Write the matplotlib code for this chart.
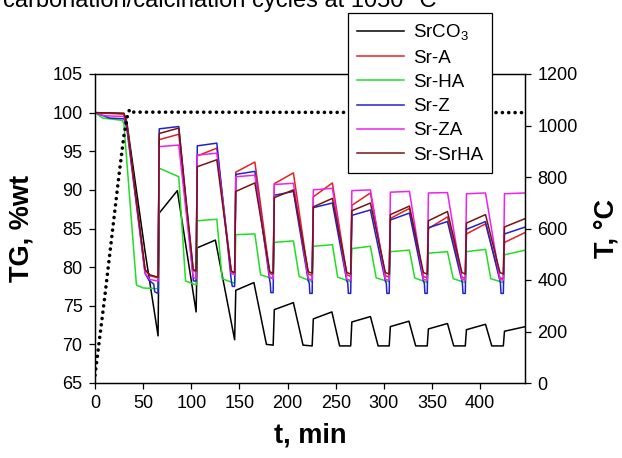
import matplotlib
matplotlib.use("Agg")
import matplotlib.pyplot as plt

plt.rcParams['font.family'] = ['Liberation Sans', 'DejaVu Sans']
plt.rcParams['mathtext.default'] = 'regular'

# ---------------- data ----------------
title_text = "carbonation/calcination cycles at 1050 \u00b0C"
series_names = ["SrCO$_3$", "Sr-A", "Sr-HA", "Sr-Z", "Sr-ZA", "Sr-SrHA"]

# start of each carbonation step (min)
cycle_start = [65.5, 105, 145, 185, 225.5, 265.5, 305.5, 345, 384.5, 424]
# end of each carbonation step (min)
carb_end = [87, 126.5, 166, 206, 246.5, 286, 326.5, 366, 405.5, 447]
carb_end_black = [85.5, 125, 165, 206, 246, 286, 326, 366, 405.5, 447]
# end of the calcination decline (min)
bottom_time = [102, 141.5, 181.5, 221.5, 261.5, 301.5, 341, 381, 420.5]
bottom_time_green = [94, 132, 172, 212, 252, 292, 332, 372, 411]
bottom_time_black = [105, 145, 178, 216, 254, 294, 333, 372.5, 412]

# temperature program
temp_t = [0, 5, 10, 15, 20, 25, 30, 34, 36, 39, 446.5]
temp_v = [30, 180, 330, 490, 650, 810, 960, 1045, 1062, 1052, 1050]

# SrCO3
srco3_init = [(0, 100), (30, 99.9), (33, 98.8), (52, 82.0), (65.5, 71.1)]
srco3_lo = [71.1, 74.2, 70.6, 69.9, 69.8, 69.8, 69.8, 69.8, 69.8, 69.8]
srco3_knee = [87.0, 82.5, 77.0, 74.5, 73.3, 72.9, 72.3, 72.0, 71.9, 71.7]
srco3_hi = [89.9, 83.5, 78.0, 75.4, 74.2, 73.6, 73.0, 72.7, 72.6, 72.3]
srco3_bot = [74.2, 70.6, 70.0, 69.9, 69.8, 69.8, 69.8, 69.8, 69.8]

# Sr-A
sra_init = [(0, 100), (30, 99.8), (33, 98.5), (52, 79.6), (57, 78.9), (65.5, 78.6)]
sra_lo = [78.6, 79.4, 79.2, 79.0, 78.9, 78.8, 78.7, 78.6, 78.5, 78.5]
sra_knee = [96.5, 94.4, 92.3, 90.8, 89.1, 88.0, 86.3, 85.0, 84.3, 83.2]
sra_hi = [97.2, 95.4, 93.6, 92.2, 90.9, 89.6, 87.6, 86.5, 85.6, 84.5]
sra_bot = [79.6, 79.4, 79.2, 79.1, 79.0, 78.9, 78.8, 78.7, 78.6]

# Sr-HA
srha_init = [(0, 100), (8, 99.3), (28, 99.0), (30, 98.6), (43, 77.7), (50, 77.3), (65.5, 77.2)]
srha_lo = [77.2, 77.7, 77.9, 78.5, 78.1, 78.1, 78.1, 78.0, 78.0, 78.0]
srha_knee = [92.8, 86.0, 84.2, 83.2, 82.7, 82.4, 82.0, 81.8, 82.0, 81.6]
srha_hi = [91.7, 86.2, 84.3, 83.4, 82.9, 82.7, 82.2, 82.0, 82.3, 82.2]
srha_bot = [78.2, 78.5, 79.0, 78.8, 78.7, 78.6, 78.6, 78.5, 78.5]

# Sr-Z
srz_init = [(0, 100), (15, 99.3), (30, 99.2), (33, 98.0), (52, 79.2), (56, 78.3),
            (61, 77.8), (62, 76.8), (65.5, 76.6)]
srz_lo = [76.6, 78.2, 77.5, 76.7, 76.6, 76.6, 76.6, 76.6, 76.6, 76.6]
srz_knee = [97.9, 95.7, 92.0, 89.3, 87.7, 86.7, 86.1, 85.1, 84.9, 84.3]
srz_hi = [98.2, 96.05, 92.4, 89.8, 88.3, 87.4, 87.0, 85.9, 85.9, 85.2]
srz_bot = [78.5, 78.3, 78.2, 78.2, 78.2, 78.2, 78.2, 78.2, 78.2]
srz_pre = [78.3, 77.9, 77.9, 77.9, 77.9, 77.9, 77.9, 77.9, 77.9]

# Sr-ZA
srza_init = [(0, 100), (10, 99.6), (30, 99.5), (33, 98.4), (52, 79.2), (57, 78.4), (65.5, 78.2)]
srza_lo = [78.2, 78.5, 79.0, 78.5, 78.3, 78.3, 78.3, 78.3, 78.3, 78.3]
srza_knee = [95.6, 94.5, 91.7, 90.7, 90.0, 89.9, 89.7, 89.6, 89.5, 89.5]
srza_hi = [95.8, 94.75, 91.9, 90.85, 90.2, 90.0, 89.8, 89.65, 89.6, 89.6]
srza_bot = [78.7, 79.2, 78.7, 78.5, 78.4, 78.4, 78.4, 78.4, 78.4]

# Sr-SrHA
srsrha_init = [(0, 100), (30, 99.9), (33, 98.6), (52, 79.7), (57, 79.0), (65.5, 78.7)]
srsrha_lo = [78.7, 79.5, 79.3, 79.2, 79.2, 79.1, 79.1, 79.1, 79.1, 79.1]
srsrha_knee = [97.3, 93.0, 89.8, 89.0, 87.8, 87.3, 86.8, 86.0, 85.7, 85.2]
srsrha_hi = [98.0, 93.9, 90.9, 90.0, 88.9, 88.3, 87.9, 87.2, 86.8, 86.3]
srsrha_bot = [79.7, 79.5, 79.4, 79.4, 79.3, 79.3, 79.3, 79.3, 79.3]

colors = ["#000000", "#e02222", "#22dd22", "#2222cc", "#ee22ee", "#7a1212"]


def build(init, lo, knee, hi, end_t, bot_t, bot_v, pre_v=None):
    t = [p[0] for p in init]
    y = [p[1] for p in init]
    n = len(cycle_start)
    for i in range(n):
        t0 = cycle_start[i]
        t += [t0 + 1.2, end_t[i]]
        y += [knee[i], hi[i]]
        if i < n - 1:
            t.append(bot_t[i]); y.append(bot_v[i])
            if pre_v is not None:
                t.append(cycle_start[i + 1] - 3.0); y.append(pre_v[i])
                t.append(cycle_start[i + 1] - 2.4); y.append(lo[i + 1])
            t.append(cycle_start[i + 1]); y.append(lo[i + 1])
    return t, y


curves = [
    build(srco3_init, srco3_lo, srco3_knee, srco3_hi, carb_end_black, bottom_time_black, srco3_bot),
    build(sra_init, sra_lo, sra_knee, sra_hi, carb_end, bottom_time, sra_bot),
    build(srha_init, srha_lo, srha_knee, srha_hi, carb_end, bottom_time_green, srha_bot),
    build(srz_init, srz_lo, srz_knee, srz_hi, carb_end, bottom_time, srz_bot, srz_pre),
    build(srza_init, srza_lo, srza_knee, srza_hi, carb_end, bottom_time, srza_bot),
    build(srsrha_init, srsrha_lo, srsrha_knee, srsrha_hi, carb_end, bottom_time, srsrha_bot),
]

# ---------------- figure ----------------
fig = plt.figure(figsize=(6.22, 4.58), dpi=100)
ax = fig.add_axes([95 / 622, 1 - 383 / 458, 430 / 622, 309 / 458])

for (tt, yy), c, name in zip(curves, colors, series_names):
    ax.plot(tt, yy, color=c, lw=1.1, label=name, solid_joinstyle='round')

ax.set_xlim(0, 446.5)
ax.set_ylim(65, 105)
ax.set_xticks(range(0, 401, 50))
ax.set_yticks(range(65, 106, 5))
ax.tick_params(axis='both', direction='out', length=4, width=0.9, labelsize=13, pad=5)
ax.tick_params(axis='y', right=False)
ax.set_xlabel("t, min", fontsize=19.5, fontweight='bold', labelpad=7)
ax.set_ylabel("TG, %wt", fontsize=19.5, fontweight='bold', labelpad=13)
for s in ax.spines.values():
    s.set_linewidth(0.9)

ax2 = ax.twinx()
ax2.plot(temp_t, temp_v, color='black', lw=2.6, linestyle=(0, (0.01, 1.75)),
         dash_capstyle='round')
ax2.set_ylim(0, 1200)
ax2.set_yticks(range(0, 1201, 200))
ax2.tick_params(axis='y', direction='out', length=4, width=0.9, labelsize=13, pad=5)
ax2.set_ylabel("T, \u00b0C", fontsize=19.5, fontweight='bold', labelpad=11)
for s in ax2.spines.values():
    s.set_linewidth(0.9)

handles, labels = ax.get_legend_handles_labels()
leg = fig.legend(handles, labels, loc='upper left',
                 bbox_to_anchor=(348 / 622, 1 - 13 / 458),
                 bbox_transform=fig.transFigure,
                 fontsize=13.5, frameon=True, fancybox=False, shadow=False,
                 framealpha=1, edgecolor='black', borderpad=0.5,
                 handlelength=2.5, handletextpad=0.45, labelspacing=0.38,
                 borderaxespad=0)
leg.get_frame().set_linewidth(0.9)

fig.text(3 / 622, 1 - 6.5 / 458, title_text, fontsize=17, va='baseline', ha='left')

fig.savefig("out.png", dpi=100)
